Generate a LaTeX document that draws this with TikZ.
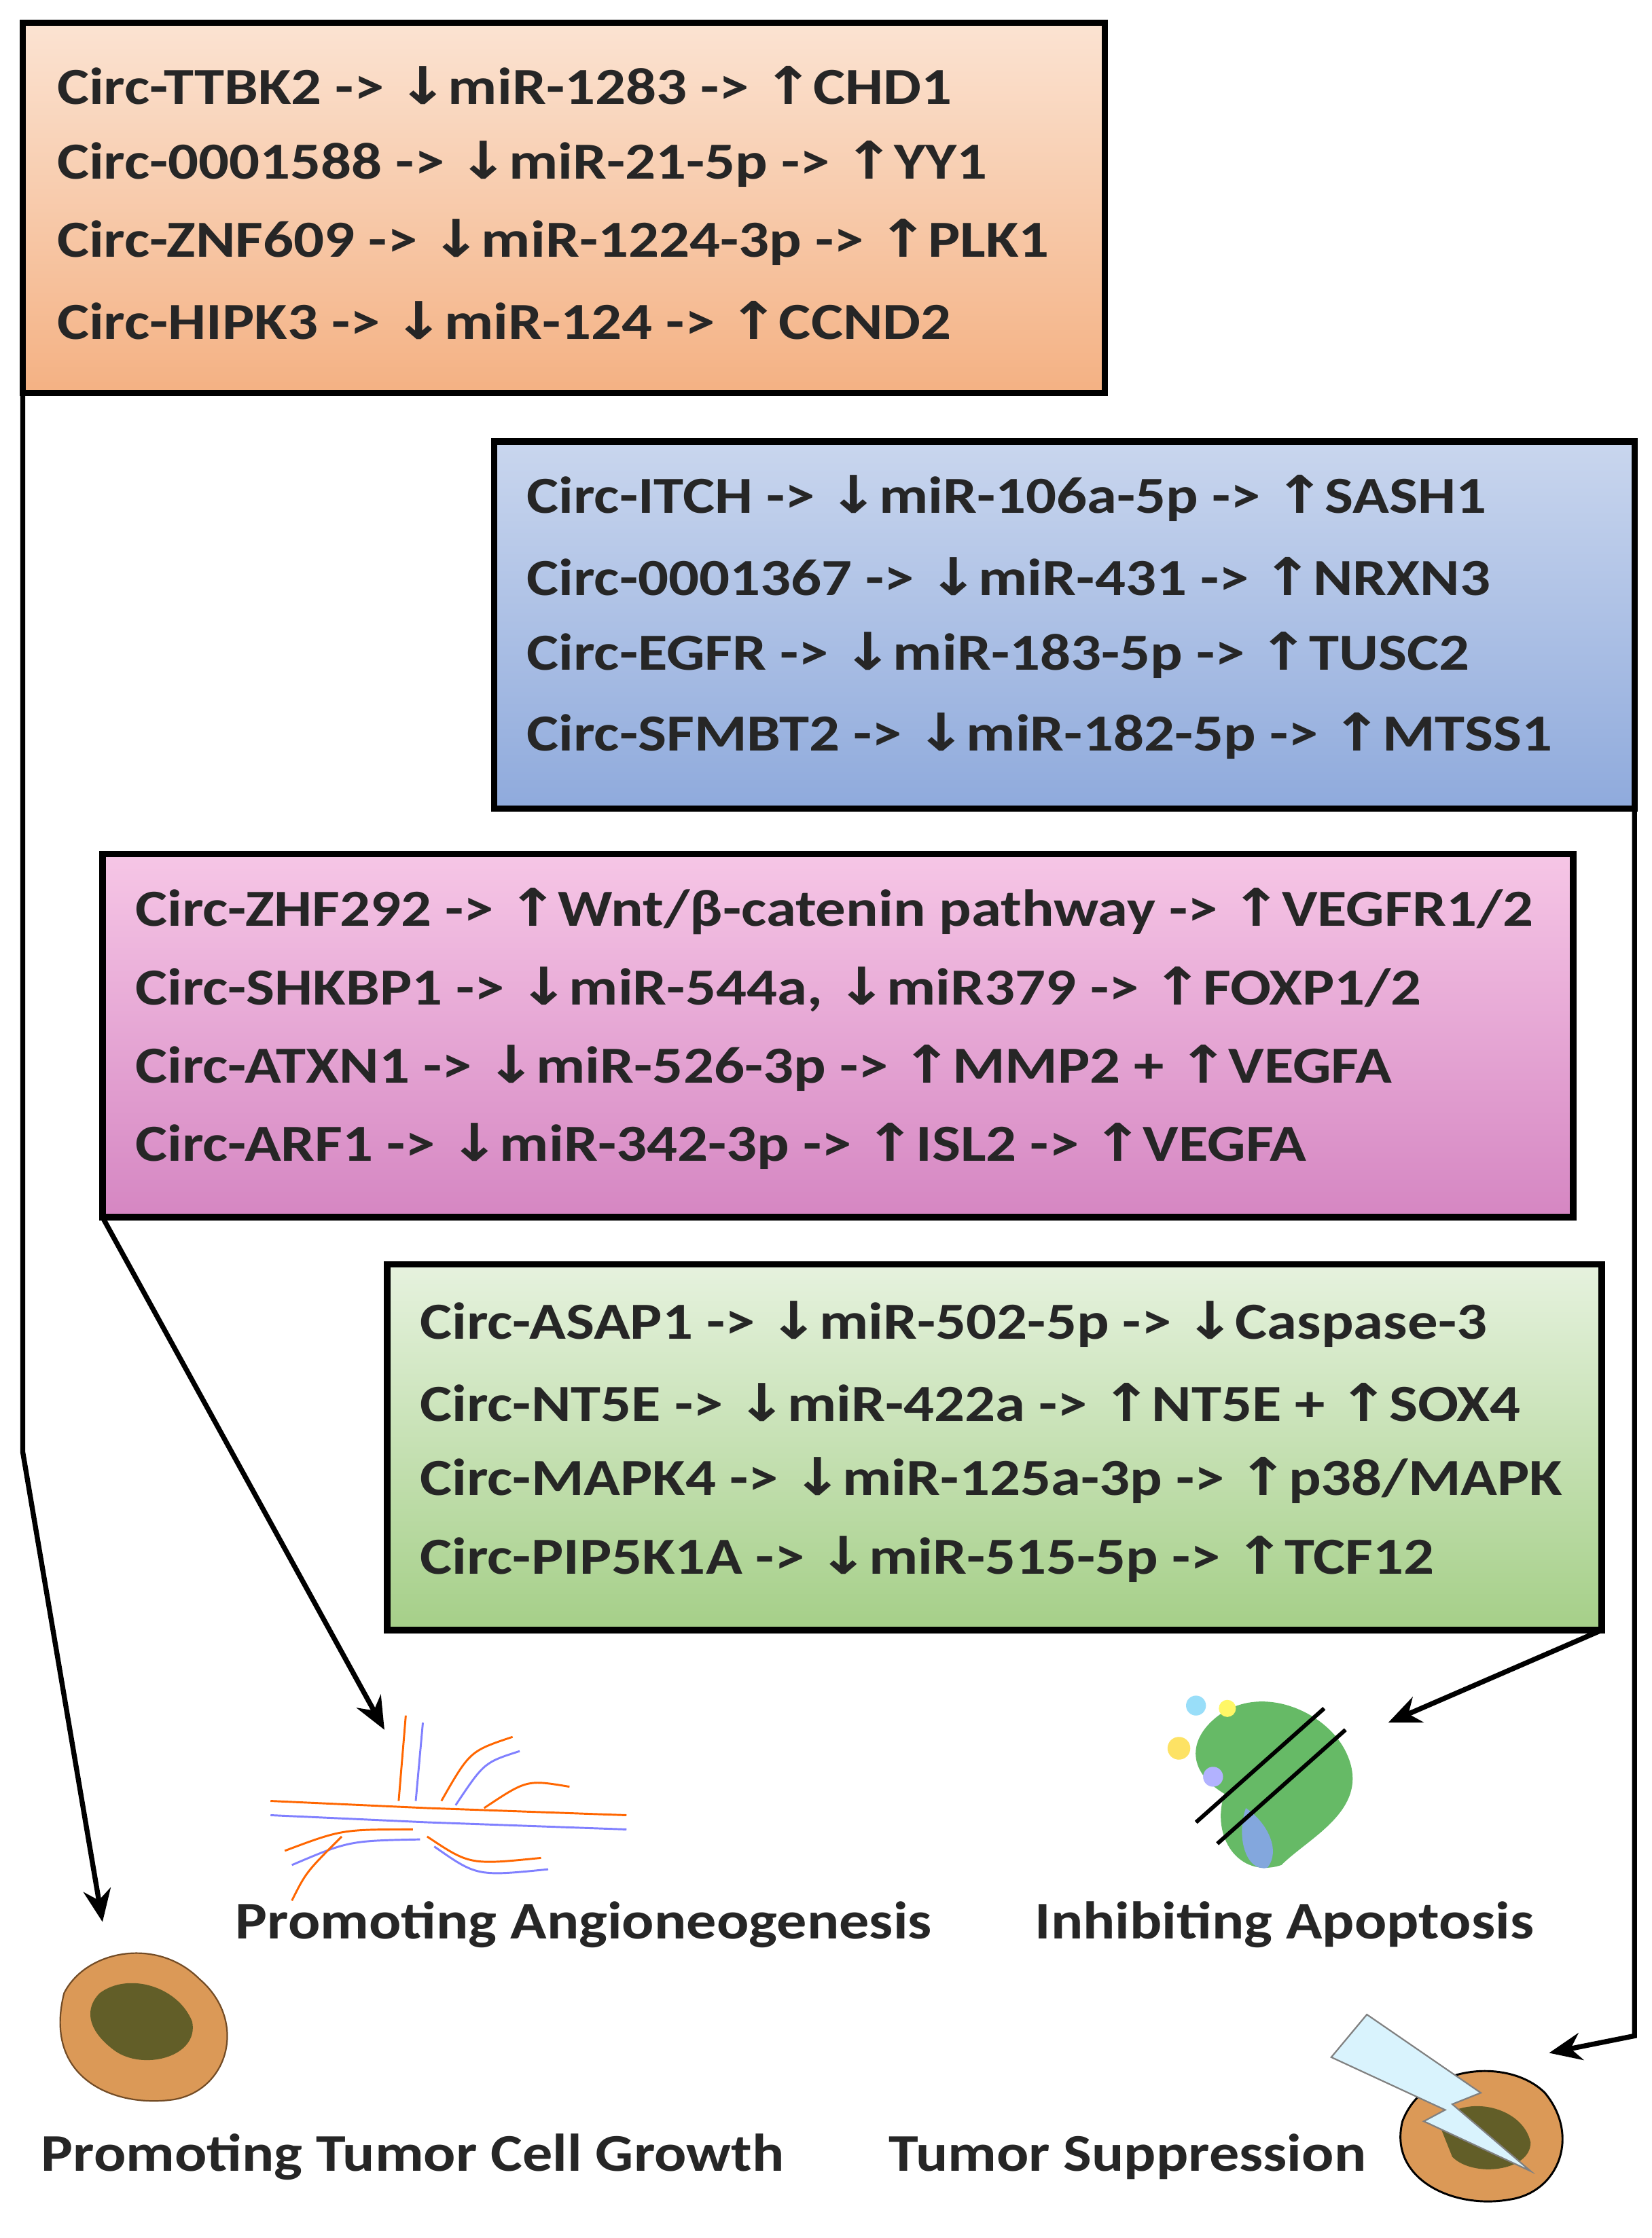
\documentclass[tikz,border=0pt]{standalone}
\usepackage{fontspec}
\setmainfont{Carlito}
\newfontfamily\arrf{DejaVu Sans}
\usetikzlibrary{arrows.meta}
\newcommand{\dn}{{\arrf\symbol{"2193}}}
\newcommand{\up}{{\arrf\symbol{"2191}}}
\definecolor{orA}{HTML}{FBE3D2}\definecolor{orB}{HTML}{F4B183}
\definecolor{blA}{HTML}{C9D6EE}\definecolor{blB}{HTML}{8FAADC}
\definecolor{piA}{HTML}{F6C6E6}\definecolor{piB}{HTML}{D586C2}
\definecolor{grA}{HTML}{E6F2DE}\definecolor{grB}{HTML}{A5CF88}
\begin{document}
\begin{tikzpicture}[x=0.1cm,y=-0.1cm,
  box/.style={draw=black,line width=13pt},
  txt/.style={anchor=west,font=\fontsize{104}{110}\selectfont\bfseries,text=black!85,inner sep=0,xscale=1.16},
  lab/.style={font=\fontsize{106}{110}\selectfont\bfseries,text=black!85,inner sep=0,xscale=1.13},
  con/.style={line width=10pt,-{Stealth[length=65pt,width=55pt]}}]
\useasboundingbox (0,0) rectangle (1160,1572);
% boxes
\shade[top color=orA,bottom color=orB] (16,16) rectangle (776,276);
\draw[box] (16,16) rectangle (776,276);
\shade[top color=blA,bottom color=blB] (347,310) rectangle (1148,568);
\draw[box] (347,310) rectangle (1148,568);
\shade[top color=piA,bottom color=piB] (72,600) rectangle (1105,855);
\draw[box] (72,600) rectangle (1105,855);
\shade[top color=grA,bottom color=grB] (272,888) rectangle (1125,1145);
\draw[box] (272,888) rectangle (1125,1145);
% texts
\node[txt] (a1) at (40,60) {Circ-TTBK2 -> \dn miR-1283 -> \up CHD1};
\node[txt] (a2) at (40,115) {Circ-0001588 -> \dn miR-21-5p -> \up YY1};
\node[txt] (a3) at (40,170) {Circ-ZNF609 -> \dn miR-1224-3p -> \up PLK1};
\node[txt] (a4) at (40,225) {Circ-HIPK3 -> \dn miR-124 -> \up CCND2};
\node[txt] (b1) at (370,350) {Circ-ITCH -> \dn miR-106a-5p -> \up SASH1};
\node[txt] (b2) at (370,405) {Circ-0001367 -> \dn miR-431 -> \up NRXN3};
\node[txt] (b3) at (370,460) {Circ-EGFR -> \dn miR-183-5p -> \up TUSC2};
\node[txt] (b4) at (370,517) {Circ-SFMBT2 -> \dn miR-182-5p -> \up MTSS1};
\node[txt] (c1) at (95,640) {Circ-ZHF292 -> \up Wnt/β-catenin pathway -> \up VEGFR1/2};
\node[txt] (c2) at (95,695) {Circ-SHKBP1 -> \dn miR-544a, \dn miR379 -> \up FOXP1/2};
\node[txt] (c3) at (95,750) {Circ-ATXN1 -> \dn miR-526-3p -> \up MMP2 + \up VEGFA};
\node[txt] (c4) at (95,805) {Circ-ARF1 -> \dn miR-342-3p -> \up ISL2 -> \up VEGFA};
\node[txt] (d1) at (295,930) {Circ-ASAP1 -> \dn miR-502-5p -> \dn Caspase-3};
\node[txt] (d2) at (295,985) {Circ-NT5E -> \dn miR-422a -> \up NT5E + \up SOX4};
\node[txt] (d3) at (295,1040) {Circ-MAPK4 -> \dn miR-125a-3p -> \up p38/MAPK};
\node[txt] (d4) at (295,1095) {Circ-PIP5K1A -> \dn miR-515-5p -> \up TCF12};
% labels
\node[lab] (l1) at (410,1352) {Promoting Angioneogenesis};
\node[lab] (l2) at (902,1352) {Inhibiting Apoptosis};
\node[lab] (l3) at (290,1515) {Promoting Tumor Cell Growth};
\node[lab] (l4) at (792,1515) {Tumor Suppression};
% icons
\fill[brown!70!orange!80!white,draw=brown!60!black,line width=3pt] (45,1400) .. controls (60,1370) and (110,1360) .. (140,1390) .. controls (175,1420) and (160,1470) .. (120,1475) .. controls (80,1480) and (30,1460) .. (45,1400) -- cycle;
\fill[olive!60!black] (70,1400) .. controls (90,1385) and (125,1395) .. (135,1420) .. controls (140,1445) and (100,1455) .. (80,1440) .. controls (60,1425) and (60,1410) .. (70,1400) -- cycle;
% vessel
\begin{scope}[line width=4pt]
\draw[orange!80!red] (190,1265) -- (300,1270) -- (440,1275);
\draw[blue!50] (190,1275) -- (300,1280) -- (440,1285);
\draw[orange!80!red] (280,1265) -- (285,1205);
\draw[blue!50] (292,1265) -- (297,1210);
\draw[orange!80!red] (310,1265) .. controls (330,1230) .. (360,1220);
\draw[blue!50] (320,1268) .. controls (340,1238) .. (365,1230);
\draw[orange!80!red] (340,1270) .. controls (370,1250) .. (400,1255);
\draw[orange!80!red] (200,1300) .. controls (240,1285) .. (290,1285);
\draw[blue!50] (205,1310) .. controls (245,1293) .. (295,1292);
\draw[orange!80!red] (240,1290) .. controls (215,1315) .. (205,1335);
\draw[orange!80!red] (300,1290) .. controls (330,1310) .. (380,1305);
\draw[blue!50] (305,1297) .. controls (335,1318) .. (385,1313);
\end{scope}
% apoptosis
\fill[green!55!black!60!white] (850,1210) .. controls (880,1180) and (930,1200) .. (945,1230) .. controls (965,1270) and (920,1290) .. (900,1310) .. controls (870,1320) and (850,1290) .. (860,1260) .. controls (835,1245) and (835,1225) .. (850,1210) -- cycle;
\fill[cyan!50!blue!50] (875,1270) .. controls (890,1280) and (900,1300) .. (890,1312) .. controls (875,1315) and (868,1290) .. (875,1270) -- cycle;
\fill[cyan!40] (840,1198) circle (7);
\fill[yellow!70!orange!60] (828,1228) circle (8);
\fill[blue!30] (852,1248) circle (7);
\fill[yellow!60] (862,1200) circle (6);
\draw[line width=8pt] (840,1280) -- (930,1200);
\draw[line width=8pt] (855,1295) -- (945,1215);
% tumor suppression
\fill[brown!70!orange!80!white,draw=black,line width=4pt] (985,1490) .. controls (1000,1450) and (1060,1445) .. (1085,1470) .. controls (1110,1500) and (1095,1540) .. (1060,1545) .. controls (1020,1552) and (975,1530) .. (985,1490) -- cycle;
\fill[olive!60!black] (1010,1490) .. controls (1030,1470) and (1070,1480) .. (1075,1505) .. controls (1075,1525) and (1035,1530) .. (1020,1515) -- cycle;
\fill[cyan!15,draw=gray,line width=3pt] (935,1445) -- (960,1415) -- (1040,1470) -- (1020,1478) -- (1075,1525) -- (1000,1490) -- (1015,1482) -- cycle;
% connectors
\coordinate (j1) at (16,1020);
\coordinate (e1) at (72,1350);
\draw[con] (16,276) -- (j1) -- (e1);
\coordinate (e2) at (270,1215);
\draw[con] (72,855) -- (e2);
\coordinate (e3) at (975,1210);
\draw[con] (1125,1145) -- (e3);
\coordinate (j4) at (1148,1430);
\coordinate (e4) at (1088,1442);
\draw[con] (1148,568) -- (j4) -- (e4);
\end{tikzpicture}
\end{document}
